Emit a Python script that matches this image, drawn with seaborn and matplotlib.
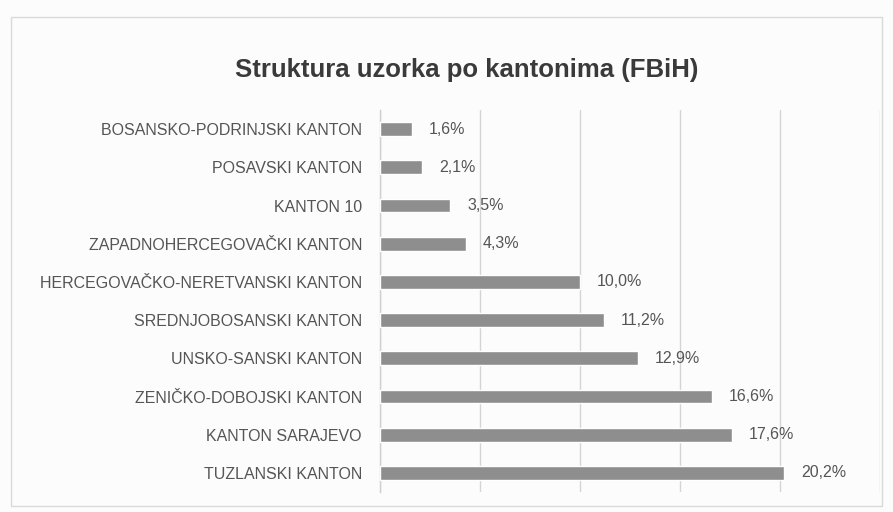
import matplotlib
matplotlib.use("Agg")
import matplotlib.pyplot as plt
import seaborn as sns
import pandas as pd

categories = [
    "BOSANSKO-PODRINJSKI KANTON",
    "POSAVSKI KANTON",
    "KANTON 10",
    "ZAPADNOHERCEGOVAČKI KANTON",
    "HERCEGOVAČKO-NERETVANSKI KANTON",
    "SREDNJOBOSANSKI KANTON",
    "UNSKO-SANSKI KANTON",
    "ZENIČKO-DOBOJSKI KANTON",
    "KANTON SARAJEVO",
    "TUZLANSKI KANTON",
]
values = [1.6, 2.1, 3.5, 4.3, 10.0, 11.2, 12.9, 16.6, 17.6, 20.2]
title = "Struktura uzorka po kantonima (FBiH)"

sns.set_theme(style="white")
plt.rcParams["font.family"] = ["Liberation Sans Narrow", "Liberation Sans", "DejaVu Sans"]

df = pd.DataFrame({"kanton": categories, "udio": values})

fig = plt.figure(figsize=(8.93, 5.12), dpi=100)
fig.patch.set_facecolor("#fdfcfd")
# outer chart border
border = plt.Rectangle((0.012, 0.012), 0.976, 0.955, transform=fig.transFigure,
                       fill=False, edgecolor="#d9d9d9", linewidth=1.0)
fig.add_artist(border)

ax = fig.add_axes([0.4255, 0.039, 0.56, 0.746])
ax.set_facecolor("#fdfcfd")
sns.barplot(data=df, x="udio", y="kanton", order=categories, color="#8e8e8e",
            width=0.36, saturation=1, ax=ax, zorder=3)

ax.set_xlim(0, 25)
ax.set_xticks([0, 5, 10, 15, 20, 25])
ax.xaxis.grid(True, color="#d4d4d4", linewidth=1.0, zorder=0)
ax.tick_params(axis="x", bottom=False, labelbottom=False)
ax.tick_params(axis="y", left=False, length=0, pad=13, labelsize=11.5, labelcolor="#555555")
ax.set_xlabel("")
ax.set_ylabel("")
for s in ["top", "right", "bottom"]:
    ax.spines[s].set_visible(False)
ax.spines["left"].set_color("#cfcfcf")
ax.spines["left"].set_linewidth(1.0)

for i, v in enumerate(values):
    ax.text(v + 0.85, i, f"{v:.1f}%".replace(".", ","), va="center", ha="left",
            fontsize=11.5, color="#555555")

fig.text(0.523, 0.863, title, ha="center", va="center", fontsize=18.5,
         color="#3a3a3a", fontweight="bold")

fig.savefig("out.png", dpi=100, facecolor=fig.get_facecolor())
